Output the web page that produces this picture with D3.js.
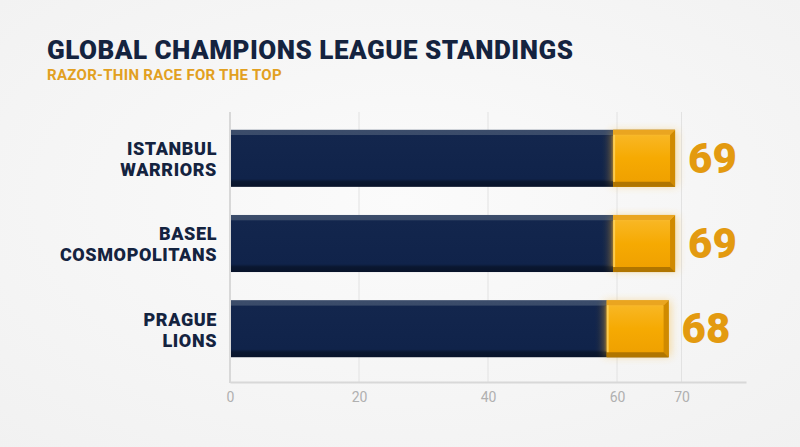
<!DOCTYPE html>
<meta charset="utf-8">
<style>
body { margin: 0; background: #f6f6f6; }
svg { display: block; }
.title { font-family: Roboto, sans-serif; font-weight: 900; fill: #14233f; }
.sub { font-family: Roboto, sans-serif; font-weight: 700; fill: #e2a021; }
.team { font-family: Roboto, sans-serif; font-weight: 900; fill: #14233f; }
.val { font-family: Roboto, sans-serif; font-weight: 900; fill: #e39a10; }
</style>
<body>
<script src="https://cdn.jsdelivr.net/npm/d3@7"></script>
<script>
const width = 800;
const height = 447;

const teams = [["ISTANBUL", "WARRIORS"], ["BASEL", "COSMOPOLITANS"], ["PRAGUE", "LIONS"]];
const points = [69, 69, 68];
const tickValues = [0, 20, 40, 60, 70];
const goldSpan = 9.6;

const data = teams.map(function(t, i) { return { name: t, value: points[i] }; });

const svg = d3.select("body").append("svg")
    .attr("width", width)
    .attr("height", height);

const defs = svg.append("defs");

const bg = defs.append("radialGradient").attr("id", "bg").attr("cx", "50%").attr("cy", "45%").attr("r", "75%");
bg.append("stop").attr("offset", "0%").attr("stop-color", "#fbfbfb");
bg.append("stop").attr("offset", "100%").attr("stop-color", "#f1f1f1");

const navy = defs.append("linearGradient").attr("id", "navy").attr("x1", 0).attr("y1", 0).attr("x2", 0).attr("y2", 1);
navy.append("stop").attr("offset", "0%").attr("stop-color", "#3c4d6b");
navy.append("stop").attr("offset", "9%").attr("stop-color", "#3a4b69");
navy.append("stop").attr("offset", "10%").attr("stop-color", "#13264d");
navy.append("stop").attr("offset", "86%").attr("stop-color", "#10234a");
navy.append("stop").attr("offset", "91%").attr("stop-color", "#0a1730");
navy.append("stop").attr("offset", "100%").attr("stop-color", "#08132a");

const gold = defs.append("linearGradient").attr("id", "gold").attr("x1", 0).attr("y1", 0).attr("x2", 0).attr("y2", 1);
gold.append("stop").attr("offset", "0%").attr("stop-color", "#f9c24a");
gold.append("stop").attr("offset", "12%").attr("stop-color", "#f8b622");
gold.append("stop").attr("offset", "50%").attr("stop-color", "#f6aa02");
gold.append("stop").attr("offset", "100%").attr("stop-color", "#ee9f00");

const fade = defs.append("linearGradient").attr("id", "fade").attr("x1", 0).attr("y1", 0).attr("x2", 1).attr("y2", 0);
fade.append("stop").attr("offset", "0%").attr("stop-color", "#13264d").attr("stop-opacity", 0);
fade.append("stop").attr("offset", "80%").attr("stop-color", "#3a3a40").attr("stop-opacity", 0.5);
fade.append("stop").attr("offset", "100%").attr("stop-color", "#c8902a").attr("stop-opacity", 0.8);

const glow = defs.append("filter").attr("id", "glow").attr("x", "-30%").attr("y", "-30%").attr("width", "160%").attr("height", "160%");
glow.append("feGaussianBlur").attr("stdDeviation", 4);

svg.append("rect").attr("width", width).attr("height", height).attr("fill", "url(#bg)");

svg.append("text").attr("class", "title")
    .attr("x", 47).attr("y", 59)
    .style("font-size", "26px")
    .style("letter-spacing", "0.5px")
    .text("GLOBAL CHAMPIONS LEAGUE STANDINGS");

svg.append("text").attr("class", "sub")
    .attr("x", 47).attr("y", 80)
    .style("font-size", "15px")
    .style("letter-spacing", "0.3px")
    .text("RAZOR-THIN RACE FOR THE TOP");

const x = d3.scaleLinear().domain([0, 80]).range([230, 746]);
const y = d3.scaleBand().domain(d3.range(data.length)).range([117, 370]).paddingInner(0.33).paddingOuter(0.15);

// gridlines
svg.append("g").selectAll("line")
    .data(tickValues.slice(1))
    .join("line")
    .attr("x1", function(d) { return x(d); })
    .attr("x2", function(d) { return x(d); })
    .attr("y1", 112).attr("y2", 382)
    .attr("stroke", "#e2e2e2").attr("stroke-width", 1);

// axes
const xAxis = svg.append("g")
    .attr("transform", "translate(0,382)")
    .call(d3.axisBottom(x).tickValues(tickValues).tickSize(0).tickPadding(10));
xAxis.select(".domain").attr("stroke", "#d8d8d8").attr("stroke-width", 2);
xAxis.selectAll(".tick text")
    .style("font-family", "Roboto, sans-serif")
    .style("font-size", "14px")
    .attr("fill", "#b0b0b0");

svg.append("line")
    .attr("x1", x(0)).attr("x2", x(0))
    .attr("y1", 112).attr("y2", 383)
    .attr("stroke", "#d8d8d8").attr("stroke-width", 2);

const bars = svg.append("g").selectAll("g")
    .data(data)
    .join("g")
    .attr("transform", function(d, i) { return "translate(0," + y(i) + ")"; });

const bh = y.bandwidth();

bars.append("rect")
    .attr("x", x(0) + 1)
    .attr("width", function(d) { return x(d.value) - x(0) - 1; })
    .attr("height", bh)
    .attr("fill", "url(#navy)");

// warm fade into the gold block
bars.append("rect")
    .attr("x", function(d) { return x(d.value - goldSpan) - 14; })
    .attr("y", bh * 0.1)
    .attr("width", 14)
    .attr("height", bh * 0.8)
    .attr("fill", "url(#fade)")
    .attr("opacity", 0.6);

// glow behind gold segment
bars.append("rect")
    .attr("x", function(d) { return x(d.value - goldSpan) - 2; })
    .attr("y", 1)
    .attr("width", function(d) { return x(d.value) - x(d.value - goldSpan) + 4; })
    .attr("height", bh - 2)
    .attr("fill", "#f6b32a")
    .attr("opacity", 0.45)
    .attr("filter", "url(#glow)");

bars.append("rect")
    .attr("x", function(d) { return x(d.value - goldSpan); })
    .attr("width", function(d) { return x(d.value) - x(d.value - goldSpan); })
    .attr("height", bh)
    .attr("fill", "url(#gold)");

// bevel edges on gold block
function bevel(side) {
    return function(d) {
        const x0 = x(d.value - goldSpan), x1 = x(d.value), b = 5;
        if (side === "right") {
            return "M" + x1 + ",0L" + x1 + "," + bh + "L" + (x1 - b) + "," + (bh - b) + "L" + (x1 - b) + "," + b + "Z";
        }
        if (side === "bottom") {
            return "M" + x0 + "," + bh + "L" + x1 + "," + bh + "L" + (x1 - b) + "," + (bh - b) + "L" + x0 + "," + (bh - b) + "Z";
        }
        return "M" + x0 + ",0L" + x1 + ",0L" + (x1 - b) + "," + b + "L" + x0 + "," + b + "Z";
    };
}
bars.append("path").attr("d", bevel("right")).attr("fill", "#d08a00");
bars.append("path").attr("d", bevel("bottom")).attr("fill", "#b07500");
bars.append("path").attr("d", bevel("top")).attr("fill", "#eaa520");

// bright edge where gold meets navy
bars.append("rect")
    .attr("x", function(d) { return x(d.value - goldSpan); })
    .attr("y", 5)
    .attr("width", 2)
    .attr("height", bh - 10)
    .attr("fill", "#ffd460")
    .attr("opacity", 0.8);

bars.append("text").attr("class", "val")
    .attr("x", function(d) { return x(d.value) + 13; })
    .attr("y", bh / 2 + 14.5)
    .style("font-size", "42px")
    .text(function(d) { return d.value; });

// two-line team labels, one text per line
bars.append("text").attr("class", "team")
    .attr("text-anchor", "end")
    .attr("x", 217).attr("y", bh / 2 - 3)
    .style("font-size", "18px")
    .style("letter-spacing", "0.6px")
    .text(function(d) { return d.name[0]; });
bars.append("text").attr("class", "team")
    .attr("text-anchor", "end")
    .attr("x", 217).attr("y", bh / 2 + 18)
    .style("font-size", "18px")
    .style("letter-spacing", "0.6px")
    .text(function(d) { return d.name[1]; });
</script>
</body>
